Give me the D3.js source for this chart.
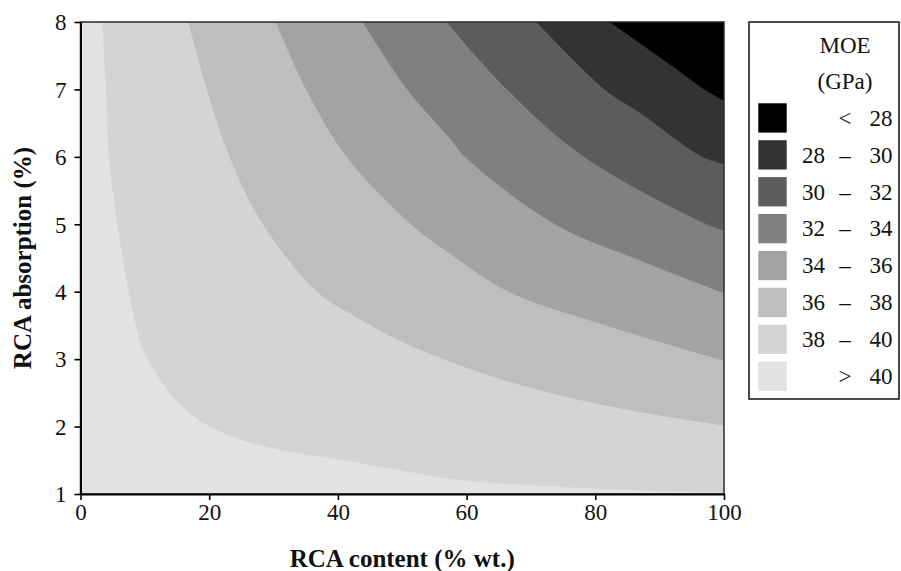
<!DOCTYPE html>
<html>
<head>
<meta charset="utf-8">
<script src="https://cdn.jsdelivr.net/npm/d3@7"></script>
<style>
  html, body { margin: 0; padding: 0; background: #fff; }
  svg { display: block; }
  svg text { font-family: "Liberation Serif", "Times New Roman", serif; }
</style>
</head>
<body>
<svg id="chart" width="901" height="571"></svg>
<script>
// Axis ticks
const xTicks = [0, 20, 40, 60, 80, 100];
const yTicks = [1, 2, 3, 4, 5, 6, 7, 8];

// MOE class breaks (GPa)
const moeBreaks = [28, 30, 32, 34, 36, 38, 40];

// Contour boundaries [RCA content %, RCA absorption %] for each break,
// running from the top edge of the plot to the right edge
const contour40 = [[3.45, 8], [4.0, 7], [4.47, 6], [5.77, 5], [7.2, 4.17], [8.2, 3.68], [9.9, 3.1],
  [11.8, 2.79], [14.4, 2.44], [18.6, 2.09], [23.7, 1.85], [31.5, 1.65], [39.3, 1.53],
  [49.6, 1.36], [57.4, 1.23], [76.5, 1.10], [100, 1.02]];
const contour38 = [[16.8, 8], [19.7, 7], [23.2, 6], [28.4, 5], [36.8, 4], [41.9, 3.68],
  [49.6, 3.28], [59.3, 2.9], [71.4, 2.54], [86.9, 2.22], [100, 2.02]];
const contour36 = [[30.4, 8], [35.1, 7], [41.4, 6], [51.4, 5], [57.4, 4.57], [66.6, 4.0],
  [81.8, 3.5], [92.1, 3.2], [100, 2.98]];
const contour34 = [[43.9, 8], [50.8, 7], [57.4, 6.28], [59.8, 6], [73.8, 5], [86.9, 4.47], [100, 3.98]];
const contour32 = [[56.9, 8], [66.3, 7], [78.3, 6], [97.4, 5], [100, 4.91]];
const contour30 = [[70.9, 8], [81.5, 7], [86.9, 6.66], [96.7, 6], [100, 5.9]];
const contour28 = [[82.3, 8], [92.1, 7.34], [97, 7], [100, 6.84]];

// Boundary for each break, same order as moeBreaks
const contours = [contour28, contour30, contour32, contour34, contour36, contour38, contour40];

// Grey shades, darkest class (< 28) to lightest (> 40)
const shades = ["#000000", "#333333", "#5c5c5c", "#808080", "#a3a3a3", "#bebebe", "#d4d4d4", "#e2e2e2"];

const serif = "'Liberation Serif', 'Times New Roman', serif";
const svg = d3.select("#chart");
const plot = { left: 80.5, right: 724, top: 22, bottom: 494 };

const x = d3.scaleLinear().domain([0, 100]).range([plot.left, plot.right]);
const y = d3.scaleLinear().domain([1, 8]).range([plot.bottom, plot.top]);

svg.append("defs").append("clipPath").attr("id", "plotClip")
  .append("rect")
  .attr("x", x(0)).attr("y", y(8))
  .attr("width", x(100) - x(0)).attr("height", y(1) - y(8));

const field = svg.append("g").attr("clip-path", "url(#plotClip)");

// Background: the > 40 class
field.append("rect")
  .attr("x", x(0)).attr("y", y(8))
  .attr("width", x(100) - x(0)).attr("height", y(1) - y(8))
  .attr("fill", shades[7]);

const line = d3.line()
  .x(d => x(d[0]))
  .y(d => y(d[1]))
  .curve(d3.curveCatmullRom.alpha(0.5));

// Each region below a break lies above/right of its boundary; stack from 40 down to 28
for (let i = moeBreaks.length - 1; i >= 0; i--) {
  const d = line(contours[i]) + `L${x(100)},${y(8)}Z`;
  field.append("path")
    .attr("d", d)
    .attr("fill", shades[i])
    .attr("stroke", shades[i])
    .attr("stroke-width", 0.6);
}

// Plot frame
svg.append("rect")
  .attr("x", x(0)).attr("y", y(8))
  .attr("width", x(100) - x(0)).attr("height", y(1) - y(8))
  .attr("fill", "none").attr("stroke", "#2a2a2a").attr("stroke-width", 1.5);

// Axes
const tickFont = 23;
const xAxis = svg.append("g")
  .attr("transform", `translate(0,${y(1)})`)
  .call(d3.axisBottom(x).tickValues(xTicks).tickFormat(d3.format("d"))
    .tickSize(6).tickSizeOuter(0).tickPadding(4));
const yAxis = svg.append("g")
  .attr("transform", `translate(${x(0)},0)`)
  .call(d3.axisLeft(y).tickValues(yTicks).tickFormat(d3.format("d"))
    .tickSize(6).tickSizeOuter(0).tickPadding(8));

[xAxis, yAxis].forEach(g => {
  g.attr("font-family", serif).attr("font-size", tickFont);
  g.select(".domain").attr("stroke", "#000").attr("stroke-width", 2);
  g.selectAll(".tick line").attr("stroke", "#000").attr("stroke-width", 1.6);
  g.selectAll(".tick text")
    .attr("fill", "#111")
    .attr("font-family", serif)
    .style("font-size", tickFont + "px");
});
yAxis.selectAll(".tick text").attr("dy", "0.34em");

// Axis titles
svg.append("text")
  .attr("x", (x(0) + x(100)) / 2)
  .attr("y", 567)
  .attr("text-anchor", "middle")
  .attr("font-family", serif)
  .style("font-size", "25px").style("font-weight", "bold")
  .attr("fill", "#111")
  .text("RCA content (% wt.)");

svg.append("text")
  .attr("transform", `translate(31,${(y(1) + y(8)) / 2}) rotate(-90)`)
  .attr("text-anchor", "middle")
  .attr("font-family", serif)
  .style("font-size", "25px").style("font-weight", "bold")
  .attr("fill", "#111")
  .text("RCA absorption (%)");

// Legend
const legend = svg.append("g").attr("font-family", serif);
legend.append("rect")
  .attr("x", 749).attr("y", 22)
  .attr("width", 150).attr("height", 377)
  .attr("fill", "#fff").attr("stroke", "#111").attr("stroke-width", 1.5);

const legendFont = 23;
legend.append("text").attr("x", 845).attr("y", 52.5).attr("text-anchor", "middle")
  .style("font-size", legendFont + "px").attr("fill", "#111").text("MOE");
legend.append("text").attr("x", 845).attr("y", 88.5).attr("text-anchor", "middle")
  .style("font-size", legendFont + "px").attr("fill", "#111").text("(GPa)");

// Legend rows: darkest class first
const legendRows = d3.range(moeBreaks.length + 1).map(i => ({
  color: shades[i],
  low: (i === 0 || i === moeBreaks.length) ? "" : String(moeBreaks[i - 1]),
  sign: i === 0 ? "<" : (i === moeBreaks.length ? ">" : "\u2013"),
  high: i === moeBreaks.length ? String(moeBreaks[i - 1]) : String(moeBreaks[i])
}));

const rowStep = 36.9, rowTop = 103.3, swatchH = 29.3;
const rows = legend.selectAll("g.row").data(legendRows).join("g")
  .attr("class", "row")
  .attr("transform", (d, i) => `translate(0,${rowTop + i * rowStep})`);

rows.append("rect")
  .attr("x", 758.3).attr("y", 0)
  .attr("width", 28.4).attr("height", swatchH)
  .attr("fill", d => d.color);

const baseY = swatchH / 2 + legendFont * 0.34;
rows.append("text").attr("x", 802).attr("y", baseY).attr("text-anchor", "start")
  .style("font-size", legendFont + "px").attr("fill", "#111").text(d => d.low);
rows.append("text").attr("x", 845).attr("y", baseY).attr("text-anchor", "middle")
  .style("font-size", legendFont + "px").attr("fill", "#111").text(d => d.sign);
rows.append("text").attr("x", 892.5).attr("y", baseY).attr("text-anchor", "end")
  .style("font-size", legendFont + "px").attr("fill", "#111").text(d => d.high);
</script>
</body>
</html>
